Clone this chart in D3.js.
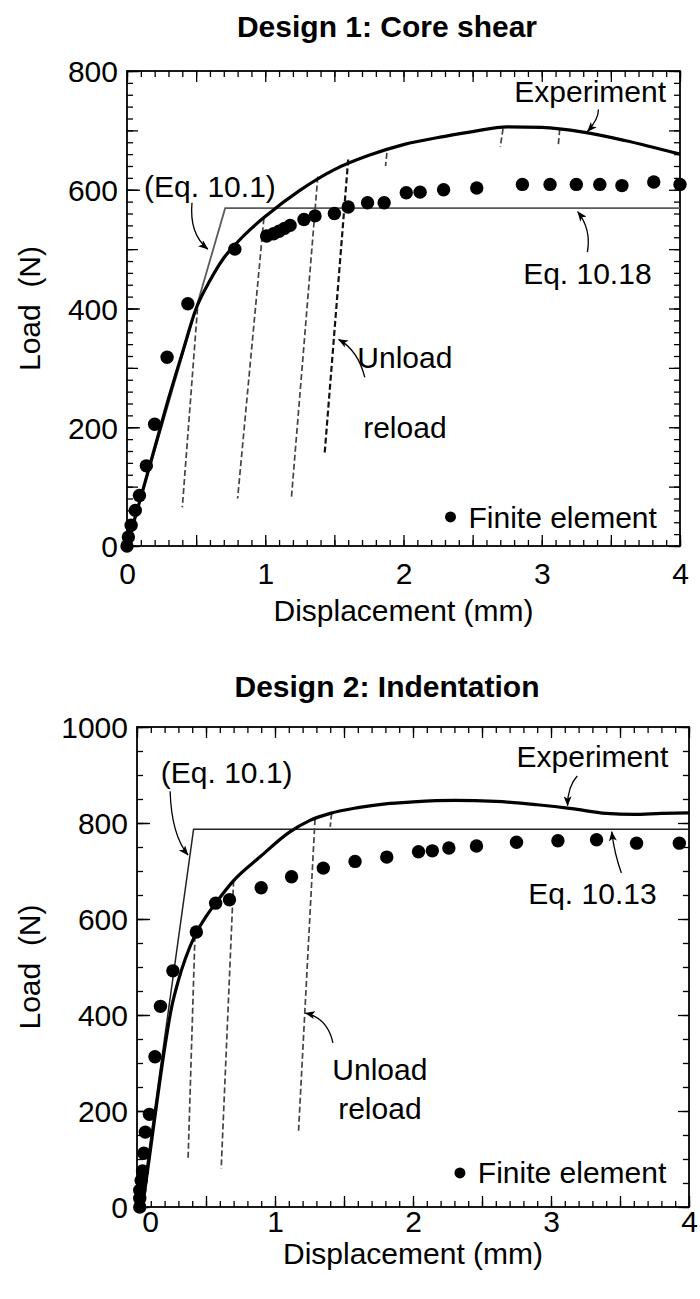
<!DOCTYPE html>
<html>
<head>
<meta charset="utf-8">
<script src="https://cdn.jsdelivr.net/npm/d3@7"></script>
<style>
  body { margin: 0; background: #fff; }
  svg text { font-family: "Liberation Sans", Arial, Helvetica, sans-serif; fill: #000; white-space: pre; }
</style>
</head>
<body>
<svg id="chart" width="700" height="1299"></svg>
<script>
// ---------- Design 1: core shear ----------
const coreExpDisp = [0, 0.1, 0.2, 0.3, 0.4, 0.5, 0.6, 0.7, 0.8, 0.9, 1.0, 1.25, 1.5, 1.75, 2.0, 2.3, 2.5, 2.75, 3.0, 3.3, 3.6, 4.0];
const coreExpLoad = [0, 82, 165, 248, 325, 400, 447, 485, 512, 535, 555, 599, 634, 658, 676, 690, 698, 706, 705, 697, 683, 660];

const coreFeDisp = [0, 0.01, 0.03, 0.06, 0.09, 0.14, 0.2, 0.29, 0.44, 0.78, 1.01, 1.06, 1.1, 1.14, 1.18, 1.28, 1.36, 1.5, 1.6, 1.74, 1.86, 2.02, 2.12, 2.29, 2.53, 2.86, 3.06, 3.25, 3.42, 3.58, 3.81, 4.0];
const coreFeLoad = [0, 15, 35, 60, 85, 135, 205, 318, 408, 500, 522, 526, 530, 535, 540, 550, 556, 560, 571, 578, 578, 595, 596, 600, 603, 609, 609, 609, 609, 607, 613, 609];

const coreEqDisp = [0, 0.71, 4.0];
const coreEqLoad = [0, 569, 569];

// unload/reload excursions: [start, end] as [displacement, load]
const coreUnload = [
  [[0.51, 400], [0.40, 65]],
  [[0.99, 552], [0.80, 80]],
  [[1.38, 622], [1.19, 83]],
  [[1.60, 651], [1.43, 157]]
];
const coreUnloadStubs = [
  [[1.88, 662], [1.87, 640]],
  [[2.72, 703], [2.70, 672]],
  [[3.13, 702], [3.12, 676]]
];
const coreYTicks = [0, 200, 400, 600, 800];

// ---------- Design 2: indentation ----------
const indentExpDisp = [0.04, 0.1, 0.15, 0.2, 0.25, 0.3, 0.35, 0.42, 0.5, 0.57, 0.7, 0.89, 1.1, 1.25, 1.4, 1.6, 1.8, 2.0, 2.3, 2.6, 2.9, 3.15, 3.4, 3.6, 3.8, 4.0];
const indentExpLoad = [0, 125, 230, 330, 415, 472, 517, 566, 605, 633, 680, 729, 780, 805, 820, 832, 840, 844, 847, 845, 838, 830, 820, 818, 820, 821];

const indentFeDisp = [0.02, 0.02, 0.02, 0.03, 0.04, 0.05, 0.06, 0.09, 0.13, 0.17, 0.26, 0.43, 0.57, 0.67, 0.9, 1.12, 1.35, 1.58, 1.81, 2.04, 2.14, 2.26, 2.46, 2.75, 3.05, 3.33, 3.62, 3.93];
const indentFeLoad = [0, 18, 35, 55, 75, 112, 156, 193, 313, 418, 492, 573, 633, 640, 665, 688, 706, 720, 729, 740, 742, 748, 752, 760, 763, 765, 758, 758];

const indentEqDisp = [0.03, 0.41, 4.0];
const indentEqLoad = [0, 787, 787];

const indentUnload = [
  [[0.42, 565], [0.37, 100]],
  [[0.70, 680], [0.61, 80]],
  [[1.29, 808], [1.17, 155]]
];
const indentUnloadStubs = [
  [[1.41, 820], [1.40, 792]]
];
const indentYTicks = [0, 200, 400, 600, 800, 1000];

const xTickLabels = [0, 1, 2, 3, 4];

// ---------- drawing ----------
const svg = d3.select("#chart");
const FS = 30;

svg.append("defs").append("marker")
  .attr("id", "arrowhead")
  .attr("viewBox", "0 0 10 8")
  .attr("refX", 9.5).attr("refY", 4)
  .attr("markerWidth", 10).attr("markerHeight", 8)
  .attr("markerUnits", "userSpaceOnUse")
  .attr("orient", "auto")
  .append("path")
  .attr("d", "M0,0 L10,4 L0,8 L2.5,4 Z")
  .attr("fill", "#000");

const panels = [
  {
    title: "Design 1: Core shear", titleY: 37,
    left: 127, right: 680, top: 71, bottom: 546,
    yMax: 800, yTicks: coreYTicks, yMinor: 20, yMid: 100,
    exp: d3.zip(coreExpDisp, coreExpLoad),
    fe: d3.zip(coreFeDisp, coreFeLoad),
    eq: d3.zip(coreEqDisp, coreEqLoad), eqColor: "#5a5a5a", eqWidth: 1.8,
    unload: coreUnload, stubs: coreUnloadStubs, darkLast: true,
    xPad: 17, xTitleY: 621, yTitleX: 40,
    notes: [
      { text: "(Eq. 10.1)", at: [0.6, 588], anchor: "middle",
        arrow: [[0.47, 578], [0.45, 525], [0.585, 500]] },
      { text: "Experiment", at: [3.35, 748], anchor: "middle",
        arrow: [[3.41, 735], [3.41, 718], [3.33, 698]] },
      { text: "Eq. 10.18", at: [3.33, 441], anchor: "middle",
        arrow: [[3.33, 495], [3.36, 533], [3.26, 563]] },
      { text: "Unload", at: [2.01, 300], anchor: "middle" },
      { text: "reload", at: [2.01, 182], anchor: "middle",
        arrow: [[1.72, 284], [1.67, 330], [1.53, 348]] }
    ],
    legend: { dot: [2.34, 49], text: [2.47, 31] }
  },
  {
    title: "Design 2: Indentation", titleY: 697,
    left: 137, right: 689, top: 727, bottom: 1207,
    yMax: 1000, yTicks: indentYTicks, yMinor: 50, yMid: 200,
    exp: d3.zip(indentExpDisp, indentExpLoad),
    fe: d3.zip(indentFeDisp, indentFeLoad),
    eq: d3.zip(indentEqDisp, indentEqLoad), eqColor: "#222", eqWidth: 1.5,
    unload: indentUnload, stubs: indentUnloadStubs, darkLast: false,
    zeroShift: 13,
    xPad: 4, xTitleY: 1264, yTitleX: 40,
    notes: [
      { text: "(Eq. 10.1)", at: [0.65, 883], anchor: "middle",
        arrow: [[0.24, 866], [0.25, 775], [0.37, 733]] },
      { text: "Experiment", at: [3.3, 917], anchor: "middle",
        arrow: [[3.19, 898], [3.12, 876], [3.12, 836]] },
      { text: "Eq. 10.13", at: [3.3, 631], anchor: "middle",
        arrow: [[3.51, 696], [3.46, 735], [3.44, 782]] },
      { text: "Unload", at: [1.76, 264], anchor: "middle" },
      { text: "reload", at: [1.76, 184], anchor: "middle",
        arrow: [[1.42, 342], [1.38, 394], [1.22, 404]] }
    ],
    legend: { dot: [2.34, 71], text: [2.47, 49] }
  }
];

panels.forEach(drawPanel);

function drawPanel(p) {
  const g = svg.append("g");
  const x = d3.scaleLinear().domain([0, 4]).range([p.left, p.right]);
  const y = d3.scaleLinear().domain([0, p.yMax]).range([p.bottom, p.top]);
  const w = p.right - p.left, h = p.bottom - p.top;

  // title
  g.append("text")
    .attr("x", 387).attr("y", p.titleY)
    .attr("text-anchor", "middle")
    .attr("font-size", FS).attr("font-weight", "bold")
    .text(p.title);

  // inward tick marks on all four sides
  const xMinor = d3.range(0, 41).map(i => i / 10);
  const xHalf = d3.range(0, 9).map(i => i / 2);
  const yMinor = d3.range(0, p.yMax + 0.01, p.yMinor);
  const yMid = d3.range(0, p.yMax + 0.01, p.yMid);

  function ticks(axisFn, scale, values, len, tx, ty) {
    g.append("g")
      .attr("transform", `translate(${tx},${ty})`)
      .call(axisFn(scale).tickValues(values).tickSize(-len).tickFormat(""))
      .call(a => a.select(".domain").remove())
      .selectAll("line").attr("stroke", "#000").attr("stroke-width", 1.3);
  }
  ticks(d3.axisBottom, x, xMinor, 6, 0, p.bottom);
  ticks(d3.axisBottom, x, xHalf, 11, 0, p.bottom);
  ticks(d3.axisTop, x, xMinor, 6, 0, p.top);
  ticks(d3.axisTop, x, xHalf, 11, 0, p.top);
  ticks(d3.axisLeft, y, yMinor, 6, p.left, 0);
  ticks(d3.axisLeft, y, yMid, 11, p.left, 0);
  ticks(d3.axisLeft, y, p.yTicks, 13, p.left, 0);
  ticks(d3.axisRight, y, yMinor, 6, p.right, 0);
  ticks(d3.axisRight, y, yMid, 11, p.right, 0);

  // tick labels
  const xl = g.append("g")
    .attr("transform", `translate(0,${p.bottom})`)
    .call(d3.axisBottom(x).tickValues(xTickLabels).tickSize(0).tickPadding(p.xPad).tickFormat(d3.format("d")));
  xl.select(".domain").remove();
  xl.attr("font-family", null).attr("font-size", FS);
  if (p.zeroShift) xl.selectAll(".tick text").filter(d => d === 0).attr("dx", p.zeroShift);

  const yl = g.append("g")
    .attr("transform", `translate(${p.left},0)`)
    .call(d3.axisLeft(y).tickValues(p.yTicks).tickSize(0).tickPadding(9).tickFormat(d3.format("d")));
  yl.select(".domain").remove();
  yl.attr("font-family", null).attr("font-size", FS);
  yl.selectAll(".tick text").attr("dy", "0.36em");

  // frame
  g.append("rect")
    .attr("x", p.left).attr("y", p.top)
    .attr("width", w).attr("height", h)
    .attr("fill", "none").attr("stroke", "#000").attr("stroke-width", 1.8);

  // axis titles
  g.append("text")
    .attr("x", (p.left + p.right) / 2).attr("y", p.xTitleY)
    .attr("text-anchor", "middle").attr("font-size", FS)
    .text("Displacement (mm)");
  g.append("text")
    .attr("transform", `translate(${p.yTitleX},${(p.top + p.bottom) / 2}) rotate(-90)`)
    .attr("text-anchor", "middle").attr("font-size", FS)
    .text("Load  (N)");

  // analytic estimate (thin line)
  g.append("path")
    .datum(p.eq)
    .attr("d", d3.line().x(d => x(d[0])).y(d => y(d[1])))
    .attr("fill", "none").attr("stroke", p.eqColor).attr("stroke-width", p.eqWidth);

  // unload / reload paths
  const seg = d3.line().x(d => x(d[0])).y(d => y(d[1]));
  p.unload.forEach((s, i) => {
    const dark = p.darkLast && i === p.unload.length - 1;
    g.append("path")
      .attr("d", seg(s))
      .attr("fill", "none")
      .attr("stroke", dark ? "#111" : "#444")
      .attr("stroke-width", dark ? 2.2 : 1.7)
      .attr("stroke-dasharray", "6,3");
  });
  p.stubs.forEach(s => {
    g.append("path")
      .attr("d", seg(s))
      .attr("fill", "none").attr("stroke", "#444")
      .attr("stroke-width", 1.7).attr("stroke-dasharray", "6,3");
  });

  // experiment curve
  g.append("path")
    .datum(p.exp)
    .attr("d", d3.line().x(d => x(d[0])).y(d => y(d[1])).curve(d3.curveMonotoneX))
    .attr("fill", "none").attr("stroke", "#000").attr("stroke-width", 3.2)
    .attr("stroke-linejoin", "round");

  // finite element results
  g.selectAll("circle.fe")
    .data(p.fe)
    .join("circle")
    .attr("class", "fe")
    .attr("cx", d => x(d[0])).attr("cy", d => y(d[1]))
    .attr("r", 6.7).attr("fill", "#000");

  // annotations
  p.notes.forEach(n => {
    g.append("text")
      .attr("x", x(n.at[0])).attr("y", y(n.at[1]))
      .attr("text-anchor", n.anchor).attr("font-size", FS)
      .text(n.text);
    if (n.arrow) {
      const [a, c, b] = n.arrow;
      g.append("path")
        .attr("d", `M${x(a[0])},${y(a[1])} Q${x(c[0])},${y(c[1])} ${x(b[0])},${y(b[1])}`)
        .attr("fill", "none").attr("stroke", "#000").attr("stroke-width", 1.3)
        .attr("marker-end", "url(#arrowhead)");
    }
  });

  // legend
  g.append("circle")
    .attr("cx", x(p.legend.dot[0])).attr("cy", y(p.legend.dot[1]))
    .attr("r", 5.5).attr("fill", "#000");
  g.append("text")
    .attr("x", x(p.legend.text[0])).attr("y", y(p.legend.text[1]))
    .attr("font-size", FS)
    .text("Finite element");
}
</script>
</body>
</html>
